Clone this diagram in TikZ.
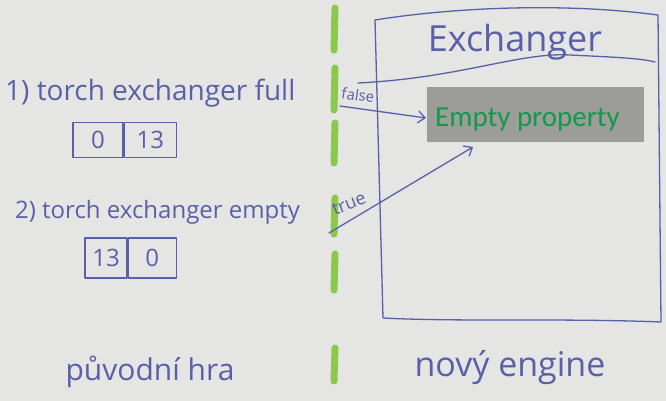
\documentclass[tikz,border=0pt]{standalone}
\usepackage{fontspec}
\setmainfont{Open Sans}
\newfontfamily\calib{Carlito}
\usetikzlibrary{arrows.meta}
\definecolor{paper}{HTML}{E5E5E3}
\definecolor{ink}{HTML}{5A60A8}
\definecolor{marker}{HTML}{8CC84B}
\definecolor{patch}{HTML}{9C9C99}
\definecolor{propgreen}{HTML}{119A4C}
\tikzset{
  inkline/.style={draw=ink, line width=1.3pt, line cap=round, line join=round},
  inktext/.style={text=ink, inner sep=0pt, font=\fontsize{#1}{#1}\selectfont},
  cell/.style={inkline, minimum height=35pt, inner sep=0pt, text=ink, font=\fontsize{24}{24}\selectfont},
  greendash/.style={draw=marker, line width=7pt, line cap=round},
  arrowline/.style={inkline, -{Straight Barb[length=7pt,width=12pt]}}
}
\begin{document}
\begin{tikzpicture}[x=1pt,y=-1pt]
\useasboundingbox (0,0) rectangle (666,401);
\fill[paper] (0,0) rectangle (666,401);

% green divider dashes
\foreach \a/\b in {8/50, 68/110, 123/163, 198/234, 254/290, 348/381}
  \draw[greendash] (335,\a) -- (334,\b);

% left texts
\node[inktext=28, anchor=west] (t1) at (5,93) {1) torch exchanger full};
\node[cell, minimum width=50pt] (c1a) at (98,140) {0};
\node[cell, minimum width=52pt, anchor=west] (c1b) at (c1a.east) {13};
\node[inktext=24, anchor=west] (t2) at (15,212) {2) torch exchanger empty};
\node[cell, minimum width=42pt, minimum height=40pt] (c2a) at (106,258) {13};
\node[cell, minimum width=48pt, minimum height=40pt, anchor=west] (c2b) at (c2a.east) {0};

% bottom labels
\node[inktext=30] (orig) at (150,372) {původní hra};
\node[inktext=34] (neweng) at (510,368) {nový engine};

% Exchanger box
\coordinate (tl) at (375,20);
\coordinate (tr) at (658,15);
\coordinate (br) at (661,322);
\coordinate (bl) at (383,318);
\draw[inkline] (tl) .. controls (450,8) and (560,2) .. (tr) -- (br)
  .. controls (560,318) and (460,322) .. (bl) -- (tl);
\coordinate (dl) at (358,83);
\coordinate (dr) at (655,62);
\draw[inkline] (dl) .. controls (460,78) and (520,52) .. (570,55)
  .. controls (610,57) and (640,58) .. (dr);
\node[inktext=36] (exch) at (515,42) {Exchanger};

% Empty property patch
\node[fill=patch, minimum width=217pt, minimum height=55pt, inner sep=0pt] (patchbox) at (535.5,114.5) {};
\node[text=propgreen, font=\calib\fontsize{29}{29}\selectfont, inner sep=0pt, anchor=west] (prop) at (435,120) {Empty property};

% false / true labels and arrows
\node[inktext=15, rotate=-8] (lfalse) at (358,95) {false};
\node[inktext=18, rotate=22] (ltrue) at (349,204) {true};
\coordinate (fs) at (340,106);
\coordinate (fe) at (426,118);
\draw[arrowline] (fs) -- (fe);
\coordinate (ts) at (329,233);
\coordinate (te) at (473,147);
\draw[arrowline] (ts) -- (te);
\end{tikzpicture}
\end{document}
